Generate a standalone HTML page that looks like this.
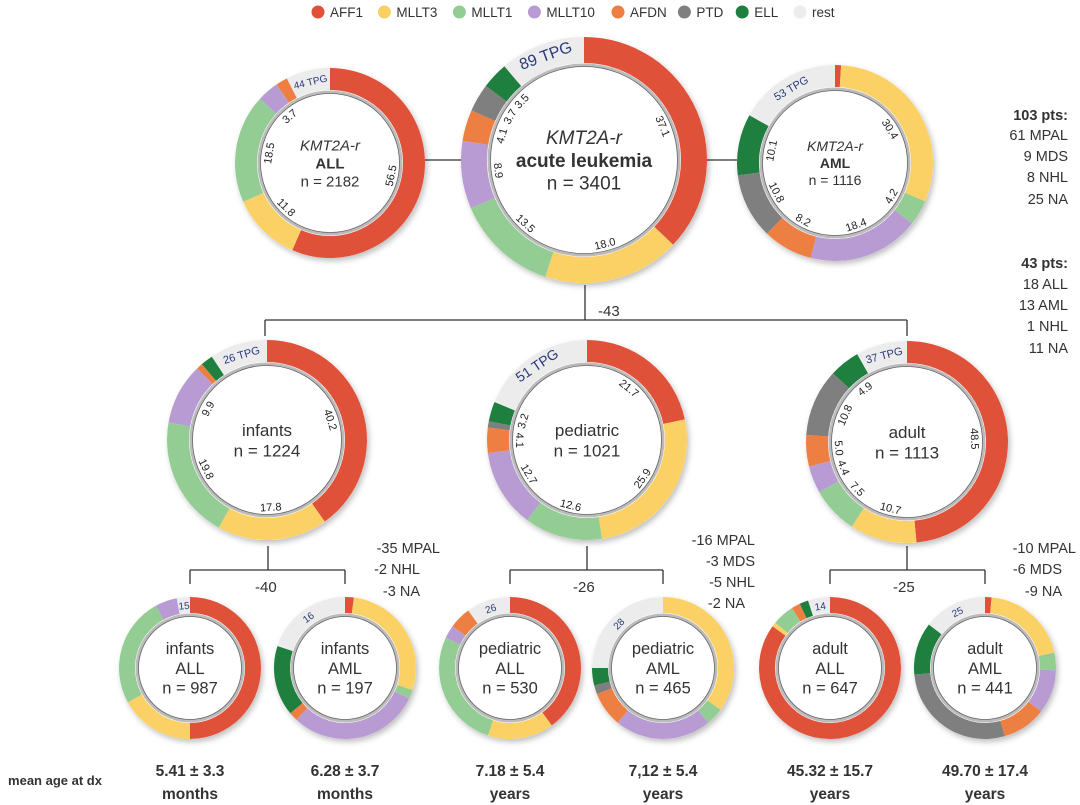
<!DOCTYPE html>
<html><head><meta charset="utf-8">
<style>
body{margin:0;background:#fff;width:1080px;height:805px;overflow:hidden;font-family:"Liberation Sans",sans-serif}
svg{display:block}
text{font-family:"Liberation Sans",sans-serif}
</style></head><body>
<svg id="fig" width="1080" height="805" viewBox="0 0 1080 805">
<defs>
<filter id="sh" x="-20%" y="-20%" width="140%" height="140%"><feDropShadow dx="2" dy="3" stdDeviation="3" flood-color="#000" flood-opacity="0.25"/></filter>
</defs>
<g id="legend"></g>
<g id="lines" stroke="#333" stroke-width="1.3" fill="none">
<line x1="425" y1="160" x2="461" y2="160"/><line x1="707" y1="160" x2="737" y2="160"/>
<line x1="585" y1="285" x2="585" y2="320"/><line x1="265" y1="320" x2="907" y2="320"/>
<line x1="265" y1="320" x2="265" y2="336"/><line x1="907" y1="320" x2="907" y2="336"/>
<line x1="268" y1="546" x2="268" y2="570"/><line x1="190" y1="570" x2="345" y2="570"/><line x1="190" y1="570" x2="190" y2="584"/><line x1="345" y1="570" x2="345" y2="584"/>
<line x1="587" y1="546" x2="587" y2="570"/><line x1="510" y1="570" x2="663" y2="570"/><line x1="510" y1="570" x2="510" y2="584"/><line x1="663" y1="570" x2="663" y2="584"/>
<line x1="907" y1="546" x2="907" y2="570"/><line x1="830" y1="570" x2="985" y2="570"/><line x1="830" y1="570" x2="830" y2="584"/><line x1="985" y1="570" x2="985" y2="584"/>
</g>
<g id="donuts"></g>
<g fill="#333" font-size="15">
<text x="598" y="316">-43</text>
<text x="255" y="592">-40</text><text x="573" y="592">-26</text><text x="893" y="592">-25</text>
<g text-anchor="end" font-size="14.5">
<text x="1068" y="120" font-weight="bold">103 pts:</text><text x="1068" y="140">61 MPAL</text><text x="1068" y="161">9 MDS</text><text x="1068" y="182">8 NHL</text><text x="1068" y="204">25 NA</text>
<text x="1068" y="268" font-weight="bold">43 pts:</text><text x="1068" y="289">18 ALL</text><text x="1068" y="310">13 AML</text><text x="1068" y="331">1 NHL</text><text x="1068" y="353">11 NA</text>
<text x="440" y="553">-35 MPAL</text><text x="420" y="574">-2 NHL</text><text x="420" y="596">-3 NA</text>
<text x="755" y="545">-16 MPAL</text><text x="755" y="566">-3 MDS</text><text x="755" y="587">-5 NHL</text><text x="745" y="608">-2 NA</text>
<text x="1076" y="553">-10 MPAL</text><text x="1062" y="574">-6 MDS</text><text x="1062" y="596">-9 NA</text>
</g>
<g font-weight="bold" text-anchor="middle" font-size="15.5">
<text x="55" y="785" font-size="13">mean age at dx</text>
<text x="190" y="776">5.41 ± 3.3</text><text x="190" y="799">months</text>
<text x="345" y="776">6.28 ± 3.7</text><text x="345" y="799">months</text>
<text x="510" y="776">7.18 ± 5.4</text><text x="510" y="799">years</text>
<text x="663" y="776">7,12 ± 5.4</text><text x="663" y="799">years</text>
<text x="830" y="776">45.32 ± 15.7</text><text x="830" y="799">years</text>
<text x="985" y="776">49.70 ± 17.4</text><text x="985" y="799">years</text>
</g>
</g>
</svg>
<script>
const genes=["AFF1","MLLT3","MLLT1","MLLT10","AFDN","PTD","ELL","rest"];
const colors=["#e0513a","#fbd166","#93cd94","#b99bd4","#ee7f43","#7f7f7f","#1f7f3e","#ececec"];
const allValues=[56.5,11.8,18.5,3.7,2.0,0,0,7.5];
const leukValues=[37.1,18.0,13.5,8.9,4.1,3.7,3.5,11.2];
const amlValues=[1.0,30.4,4.2,18.4,8.2,10.8,10.1,16.9];
const infantsValues=[40.2,17.8,19.8,9.9,1.0,0,2.0,9.3];
const pediatricValues=[21.7,25.9,12.6,12.7,4.1,1.0,3.2,18.8];
const adultValues=[48.5,10.7,7.5,4.4,5.0,10.8,4.9,8.2];
const infAllValues=[50,17,25,5,0,0,0,3];
const infAmlValues=[2,28,2,30,2,0,16,20];
const pedAllValues=[40,15,27,3,5,0,0,10];
const pedAmlValues=[0,35,4,22,8,2,4,25];
const adAllValues=[85,1,5,0,2,0,2,5];
const adAmlValues=[1.5,20,4,10,10,28,12,14.5];
const NS="http://www.w3.org/2000/svg";
function mk(t,a,p){const e=document.createElementNS(NS,t);for(const k in a)e.setAttribute(k,a[k]);p.appendChild(e);return e;}
function pt(cx,cy,r,f){const a=f*2*Math.PI;return [cx+r*Math.sin(a),cy-r*Math.cos(a)];}
function arc(cx,cy,r1,r2,f0,f1){const L=(f1-f0)>0.5?1:0;const a=pt(cx,cy,r2,f0),b=pt(cx,cy,r2,f1),c=pt(cx,cy,r1,f1),d=pt(cx,cy,r1,f0);
return `M${a[0]},${a[1]}A${r2},${r2} 0 ${L} 1 ${b[0]},${b[1]}L${c[0]},${c[1]}A${r1},${r1} 0 ${L} 0 ${d[0]},${d[1]}Z`;}
const legend=document.getElementById('legend');
let lx=318;
genes.forEach((g,i)=>{
  const c=mk('circle',{cx:lx,cy:12,r:6.5,fill:colors[i]},legend);
  
  
  const t=mk('text',{x:lx+12,y:17,'font-size':13.5,fill:'#333'},legend);t.textContent=g;
  
  
  lx+=12+g.length*8.6+20;
});
const donutsG=document.getElementById('donuts');
function donut(name,vals,cx,cy,R,w,lines,fs,tpg,labels){
  const g=mk('g',{},donutsG);
  
  
  mk('circle',{cx,cy,r:R,fill:'#fff',filter:'url(#sh)'},g);
  const tot=vals.reduce((a,b)=>a+b,0);let acc=0;
  vals.forEach((v,i)=>{ if(v<=0)return; const f0=acc/tot,f1=(acc+v)/tot;acc+=v;
    const p=mk('path',{d:arc(cx,cy,R-w,R,f0,f1),fill:colors[i]},g);
    
    
    if(labels&&i<7&&v>=3){const fm=(f0+f1)/2;const q=pt(cx,cy,R-w-11,fm);let ang=fm*360-90;if(fm>0.5)ang+=180;
      const t=mk('text',{x:q[0],y:q[1]+4,'font-size':11,'text-anchor':'middle',fill:'#222',transform:`rotate(${(fm*360+90)%180-90+ (fm>0.25&&fm<0.75?0:0)} ${q[0]} ${q[1]})`},g);
      t.textContent=v.toFixed(1);}
  });
  mk('circle',{cx,cy,r:R-w-2,fill:'none',stroke:'#bbb','stroke-width':3},g);
  mk('circle',{cx,cy,r:R-w-3.5,fill:'none',stroke:'#666','stroke-width':0.8},g);
  if(tpg){const fm=1-vals[7]/tot/2;const q=pt(cx,cy,R-w/2,fm);
    const t=mk('text',{x:q[0],y:q[1]+4,'font-size':tpg[1],'text-anchor':'middle',fill:'#2a3a7a',transform:`rotate(${(fm-1)*360} ${q[0]} ${q[1]})`},g);t.textContent=tpg[0];}
  const n=lines.length;lines.forEach((l,i)=>{
    const t=mk('text',{x:cx,y:cy+(i-(n-1)/2)*fs*1.2+fs*0.36,'font-size':fs,'text-anchor':'middle',fill:'#333','font-weight':l[1]||'normal','font-style':l[2]||'normal'},g);t.textContent=l[0];});
}
donut('donut-all',allValues,330,163,95,22,[["KMT2A-r","normal","italic"],["ALL","bold"],["n = 2182"]],15,["44 TPG",10],true);
donut('donut-acute-leukemia',leukValues,584,160,123,26,[["KMT2A-r","normal","italic"],["acute leukemia","bold"],["n = 3401"]],19,["89 TPG",16],true);
donut('donut-aml',amlValues,835,163,98,22,[["KMT2A-r","normal","italic"],["AML","bold"],["n = 1116"]],14,["53 TPG",11],true);
donut('donut-infants',infantsValues,267,440,100,22,[["infants"],["n = 1224"]],17,["26 TPG",11],true);
donut('donut-pediatric',pediatricValues,587,440,100,22,[["pediatric"],["n = 1021"]],17,["51 TPG",14],true);
donut('donut-adult',adultValues,907,442,101,22,[["adult"],["n = 1113"]],17,["37 TPG",11],true);
donut('donut-infants-all',infAllValues,190,668,71,16,[["infants"],["ALL"],["n = 987"]],16.5,["15",10],false);
donut('donut-infants-aml',infAmlValues,345,668,71,16,[["infants"],["AML"],["n = 197"]],16.5,["16",10],false);
donut('donut-pediatric-all',pedAllValues,510,668,71,16,[["pediatric"],["ALL"],["n = 530"]],16.5,["26",10],false);
donut('donut-pediatric-aml',pedAmlValues,663,668,71,16,[["pediatric"],["AML"],["n = 465"]],16.5,["28",10],false);
donut('donut-adult-all',adAllValues,830,668,71,16,[["adult"],["ALL"],["n = 647"]],16.5,["14",10],false);
donut('donut-adult-aml',adAmlValues,985,668,71,16,[["adult"],["AML"],["n = 441"]],16.5,["25",10],false);
</script>
</body></html>
